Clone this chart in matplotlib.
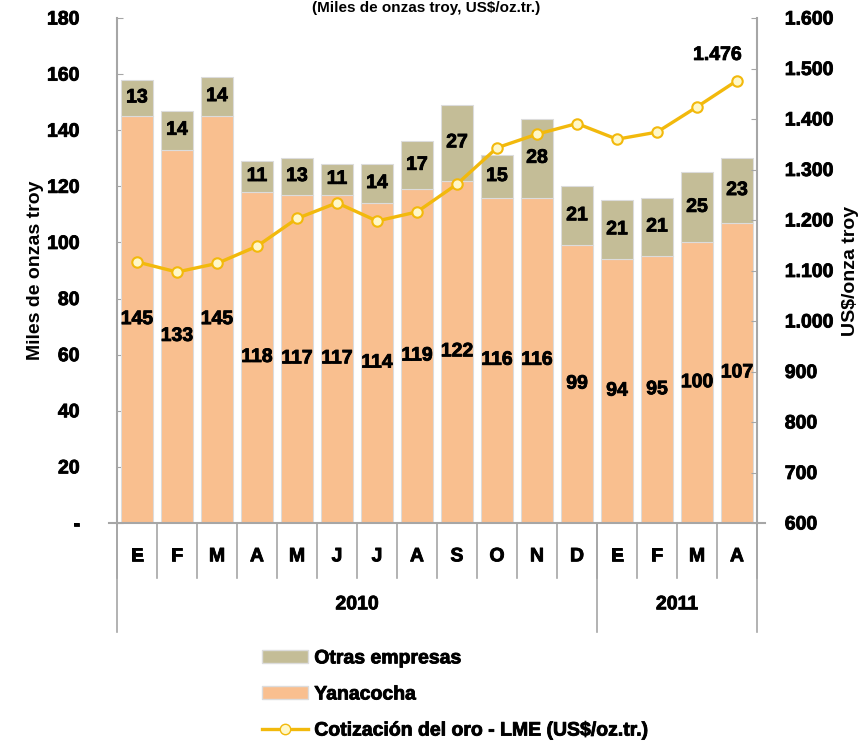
import matplotlib
matplotlib.use("Agg")
import matplotlib.pyplot as plt
import matplotlib.patheffects as pe
from matplotlib.patches import Patch
from matplotlib.lines import Line2D
from matplotlib.ticker import FuncFormatter

plt.rcParams['font.family'] = ['Liberation Sans', 'DejaVu Sans']
plt.rcParams['font.weight'] = 'bold'

# data
months = ['E', 'F', 'M', 'A', 'M', 'J', 'J', 'A', 'S', 'O', 'N', 'D', 'E', 'F', 'M', 'A']
years = ['2010', '2011']
months_per_year = [12, 4]
yanacocha = [145, 133, 145, 118, 117, 117, 114, 119, 122, 116, 116, 99, 94, 95, 100, 107]
otras = [13, 14, 14, 11, 13, 11, 14, 17, 27, 15, 28, 21, 21, 21, 25, 23]
oro = [1117, 1097, 1114, 1148, 1203, 1234, 1198, 1216, 1271, 1343, 1370, 1391, 1360, 1374, 1424, 1476]

c_yana = '#F9BF8F'
c_otras = '#C4BD97'
c_oro = '#F2B90C'
c_axis = '#A6A6A6'

# heavier looking text, like the original
heavy = [pe.withStroke(linewidth=0.6, foreground='black')]
fs = 14

fig = plt.figure(figsize=(8.65, 7.45), dpi=100)
ax = fig.add_axes([117/865, 1-523/745, 640/865, 505/745])
ax2 = ax.twinx()

x = list(range(len(months)))
ax.bar(x, yanacocha, width=0.82, color=c_yana, edgecolor='#dcdcdc', linewidth=0.8, zorder=2)
ax.bar(x, otras, width=0.82, bottom=yanacocha, color=c_otras, edgecolor='#dcdcdc', linewidth=0.8, zorder=2)

for i in x:
    ax.text(i, yanacocha[i] / 2, str(yanacocha[i]), ha='center', va='center', fontsize=fs,
            fontweight='bold', path_effects=heavy)
    ax.text(i, yanacocha[i] + otras[i] / 2, str(otras[i]), ha='center', va='center', fontsize=fs,
            fontweight='bold', path_effects=heavy)

ax2.plot(x, oro, color=c_oro, lw=2.4, marker='o', markersize=7.5,
         markerfacecolor='#FFF8C8', markeredgecolor=c_oro, markeredgewidth=1.5, zorder=3)
ax2.annotate('1.476', (x[-1], oro[-1]), xytext=(-14, 12), textcoords='offset points',
             ha='center', va='bottom', fontsize=fs, fontweight='bold', path_effects=heavy)

ax.set_xlim(-0.5, len(months) - 0.5)
ax.set_ylim(0, 180)
ax2.set_ylim(600, 1600)
ax.set_yticks(range(0, 181, 20))
ax.yaxis.set_major_formatter(FuncFormatter(lambda v, p: '-' if v == 0 else f'{int(v)}'))
ax2.set_yticks(range(600, 1601, 100))
ax2.yaxis.set_major_formatter(FuncFormatter(lambda v, p: f'{int(v):,}'.replace(',', '.')))

for a in (ax, ax2):
    for s in a.spines.values():
        s.set_visible(False)
ax.spines['left'].set_visible(True)
ax.spines['left'].set_color(c_axis)
ax.spines['left'].set_linewidth(1.5)
ax2.spines['right'].set_visible(True)
ax2.spines['right'].set_color(c_axis)
ax2.spines['right'].set_linewidth(1.5)
ax.tick_params(axis='y', direction='in', length=4, color=c_axis, labelsize=fs, pad=27)
ax2.tick_params(axis='y', direction='in', length=4, color=c_axis, labelsize=fs, pad=20)
for lab in ax.get_yticklabels() + ax2.get_yticklabels():
    lab.set_fontweight('bold')
    lab.set_path_effects(heavy)
ax.set_xticks([])

ax.set_ylabel('Miles de onzas troy', fontsize=fs, fontweight='bold', labelpad=2)
ax2.set_ylabel('US$/onza troy', fontsize=fs, fontweight='bold', labelpad=6)

# category axis below the plot
tr = ax.get_xaxis_transform()
ax.plot([-0.7, len(months) - 0.3], [0, 0], color=c_axis, lw=1.5, transform=tr, clip_on=False)
for i in range(len(months) + 1):
    ax.plot([i - 0.5, i - 0.5], [0, -0.109], color=c_axis, lw=1.2, transform=tr, clip_on=False)
for i, m in enumerate(months):
    ax.text(i, -0.067, m, ha='center', va='center', fontsize=fs, fontweight='bold',
            transform=tr, path_effects=heavy)
start = 0
for yr, n in zip(years, months_per_year):
    ax.plot([start - 0.5, start - 0.5], [0, -0.216], color=c_axis, lw=1.2, transform=tr, clip_on=False)
    ax.text(start + (n - 1) / 2, -0.162, yr, ha='center', va='center', fontsize=fs,
            fontweight='bold', transform=tr, path_effects=heavy)
    start += n
ax.plot([start - 0.5, start - 0.5], [0, -0.216], color=c_axis, lw=1.2, transform=tr, clip_on=False)

handles = [Patch(facecolor=c_otras, edgecolor='#dcdcdc'),
           Patch(facecolor=c_yana, edgecolor='#dcdcdc'),
           Line2D([], [], color=c_oro, lw=2.4, marker='o', markersize=7.5,
                  markerfacecolor='#FFF8C8', markeredgecolor=c_oro)]
labels = ['Otras empresas', 'Yanacocha', 'Cotización del oro - LME (US$/oz.tr.)']
leg = fig.legend(handles, labels, loc='upper left', bbox_to_anchor=(254/865, 1-642/745),
                 frameon=False, prop={'weight': 'bold', 'size': fs},
                 handlelength=2.4, handleheight=0.7, labelspacing=0.95, handletextpad=0.3,
                 borderaxespad=0)
for t in leg.get_texts():
    t.set_path_effects(heavy)

fig.text(0.493, 1 - 1/745, '(Miles de onzas troy, US$/oz.tr.)', ha='center', va='top',
         fontsize=11, fontweight='bold')

fig.savefig('out.png', dpi=100)
